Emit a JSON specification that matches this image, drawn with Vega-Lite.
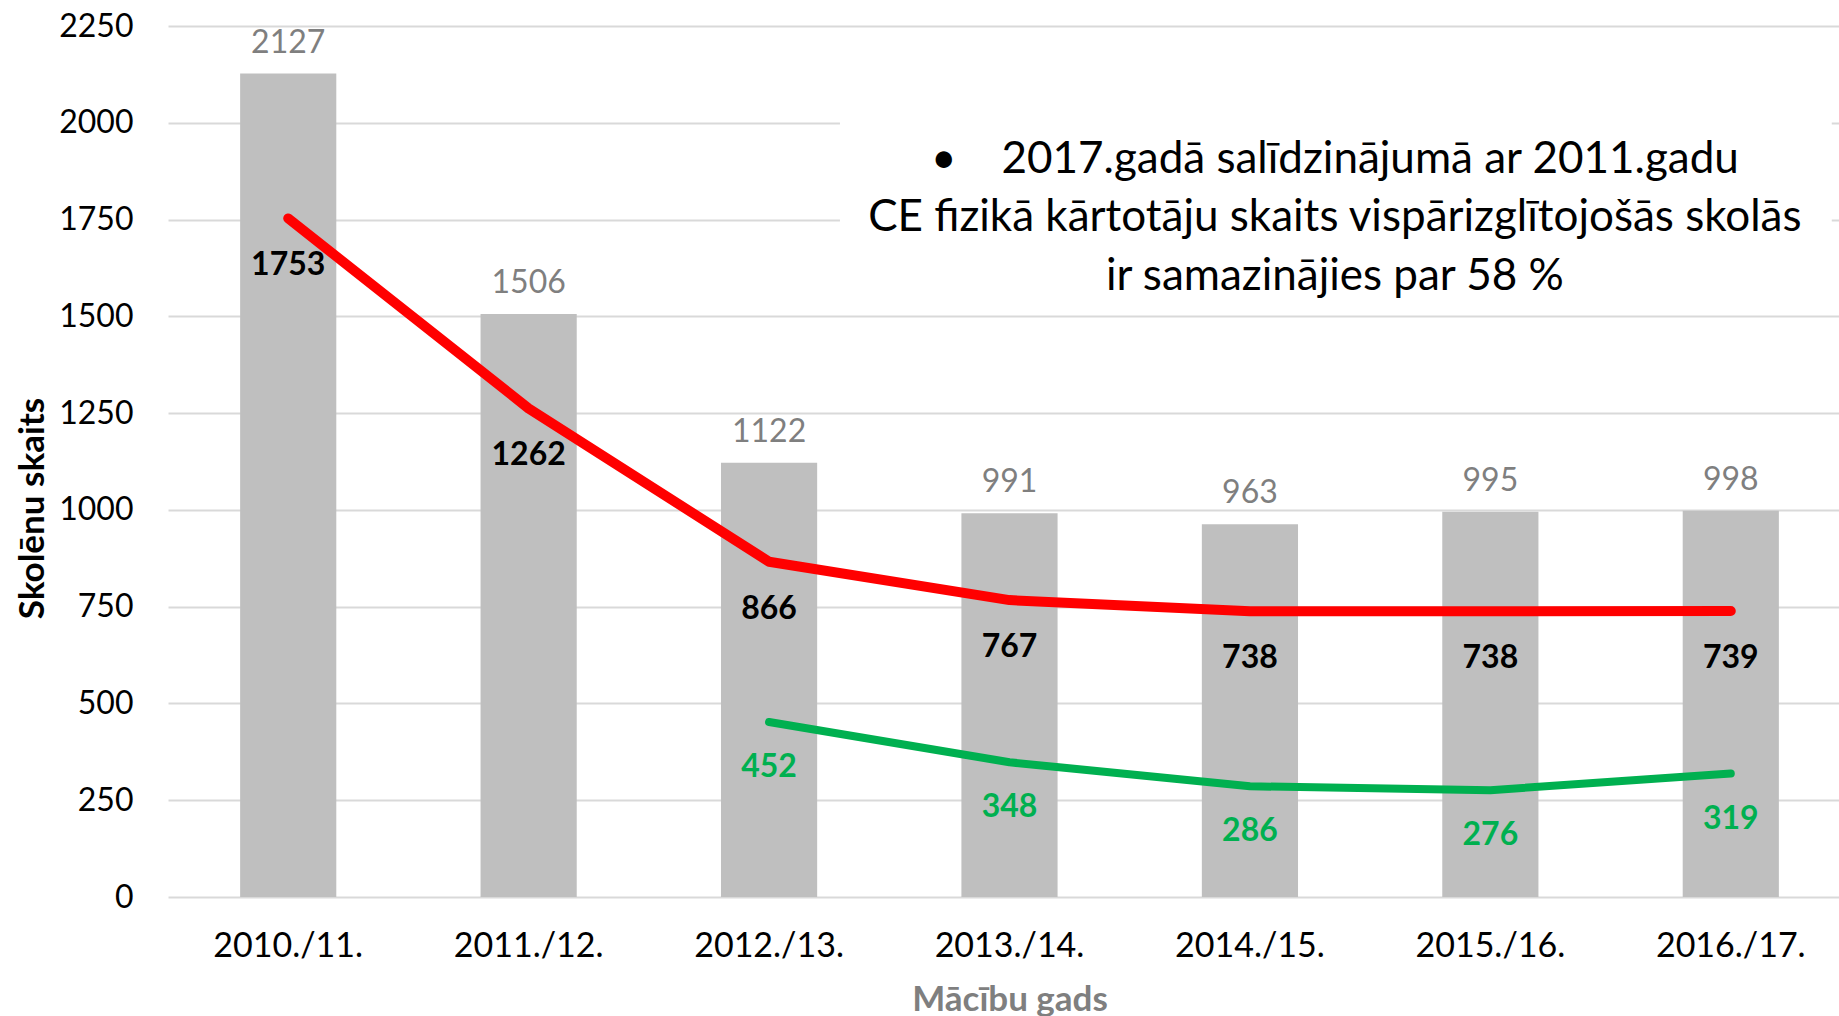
{
  "$schema": "https://vega.github.io/schema/vega-lite/v6.json",
  "autosize": {"type": "none"},
  "padding": {"left": 168, "top": 26, "right": 0, "bottom": 119},
  "width": 1671,
  "height": 871,
  "background": "white",
  "config": {
    "view": {"stroke": null},
    "font": "Lato",
    "axis": {"labelFont": "Lato", "titleFont": "Lato"}
  },
  "data": {
    "values": [
      {"gads": "2010./11.", "kopa": 2127, "ce": 1753, "ce2": null},
      {"gads": "2011./12.", "kopa": 1506, "ce": 1262, "ce2": null},
      {"gads": "2012./13.", "kopa": 1122, "ce": 866, "ce2": 452},
      {"gads": "2013./14.", "kopa": 991, "ce": 767, "ce2": 348},
      {"gads": "2014./15.", "kopa": 963, "ce": 738, "ce2": 286},
      {"gads": "2015./16.", "kopa": 995, "ce": 738, "ce2": 276},
      {"gads": "2016./17.", "kopa": 998, "ce": 739, "ce2": 319}
    ]
  },
  "encoding": {
    "x": {
      "field": "gads", "type": "nominal", "sort": null,
      "scale": {
        "domain": ["2010./11.", "2011./12.", "2012./13.", "2013./14.", "2014./15.", "2015./16.", "2016./17."],
        "range": [0, 1683], "paddingInner": 0.6, "paddingOuter": 0.3
      },
      "axis": {
        "title": "Mācību gads", "labelAngle": 0, "domain": false, "ticks": false, "tickSize": 0,
        "labelFontSize": 34, "labelColor": "#000000", "labelPadding": 32,
        "titleFontSize": 35, "titleFontWeight": "bold", "titleColor": "#7f7f7f", "titlePadding": 19
      }
    }
  },
  "layer": [
    {
      "data": {"values": [{"a": 1}]},
      "mark": {"type": "rect", "fill": "white"},
      "encoding": {
        "x": {"datum": "2012./13.", "bandPosition": 1.237},
        "x2": {"datum": "2016./17.", "bandPosition": 1.55},
        "y": {"datum": 1560, "type": "quantitative"},
        "y2": {"datum": 2100}
      }
    },
    {
      "mark": {"type": "bar", "color": "#bfbfbf"},
      "encoding": {
        "y": {
          "field": "kopa", "type": "quantitative",
          "scale": {"domain": [0, 2250], "nice": false},
          "axis": {
            "title": "Skolēnu skaits", "values": [0, 250, 500, 750, 1000, 1250, 1500, 1750, 2000, 2250],
            "format": "d",
            "domain": false, "ticks": false, "tickSize": 0, "labelPadding": 35,
            "labelFontSize": 32, "labelColor": "#000000",
            "grid": true, "gridColor": "#d9d9d9", "gridWidth": 2,
            "titleFontSize": 35, "titleFontWeight": "bold", "titleColor": "#000000", "titlePadding": 8,
            "titleY": 482
          }
        }
      }
    },
    {
      "mark": {"type": "text", "dy": -31, "fontSize": 32, "color": "#7f7f7f"},
      "encoding": {"y": {"field": "kopa", "type": "quantitative"}, "text": {"field": "kopa"}}
    },
    {
      "mark": {"type": "line", "color": "#ff0000", "strokeWidth": 10, "strokeCap": "round", "strokeJoin": "round"},
      "encoding": {"y": {"field": "ce", "type": "quantitative"}}
    },
    {
      "mark": {"type": "text", "dy": 47, "fontSize": 32, "fontWeight": "bold", "color": "#000000"},
      "encoding": {"y": {"field": "ce", "type": "quantitative"}, "text": {"field": "ce"}}
    },
    {
      "transform": [{"filter": "datum.ce2 != null"}],
      "mark": {"type": "line", "color": "#00b050", "strokeWidth": 8, "strokeCap": "round", "strokeJoin": "round"},
      "encoding": {"y": {"field": "ce2", "type": "quantitative"}}
    },
    {
      "transform": [{"filter": "datum.ce2 != null"}],
      "mark": {"type": "text", "dy": 45, "fontSize": 32, "fontWeight": "bold", "color": "#00b050"},
      "encoding": {"y": {"field": "ce2", "type": "quantitative"}, "text": {"field": "ce2"}}
    },
    {
      "data": {"values": [{"teksts": "•\u00a0\u00a0\u00a0 2017.gadā salīdzinājumā ar 2011.gadu\nCE fizikā kārtotāju skaits vispārizglītojošās skolās\nir samazinājies par 58 %"}]},
      "mark": {"type": "text", "fontSize": 44, "lineBreak": "\n", "lineHeight": 58.6, "color": "#000000", "align": "center", "baseline": "middle"},
      "encoding": {
        "x": {"datum": "2014./15.", "bandPosition": 1.383},
        "y": {"datum": 1905, "type": "quantitative"},
        "text": {"field": "teksts"}
      }
    }
  ]
}
